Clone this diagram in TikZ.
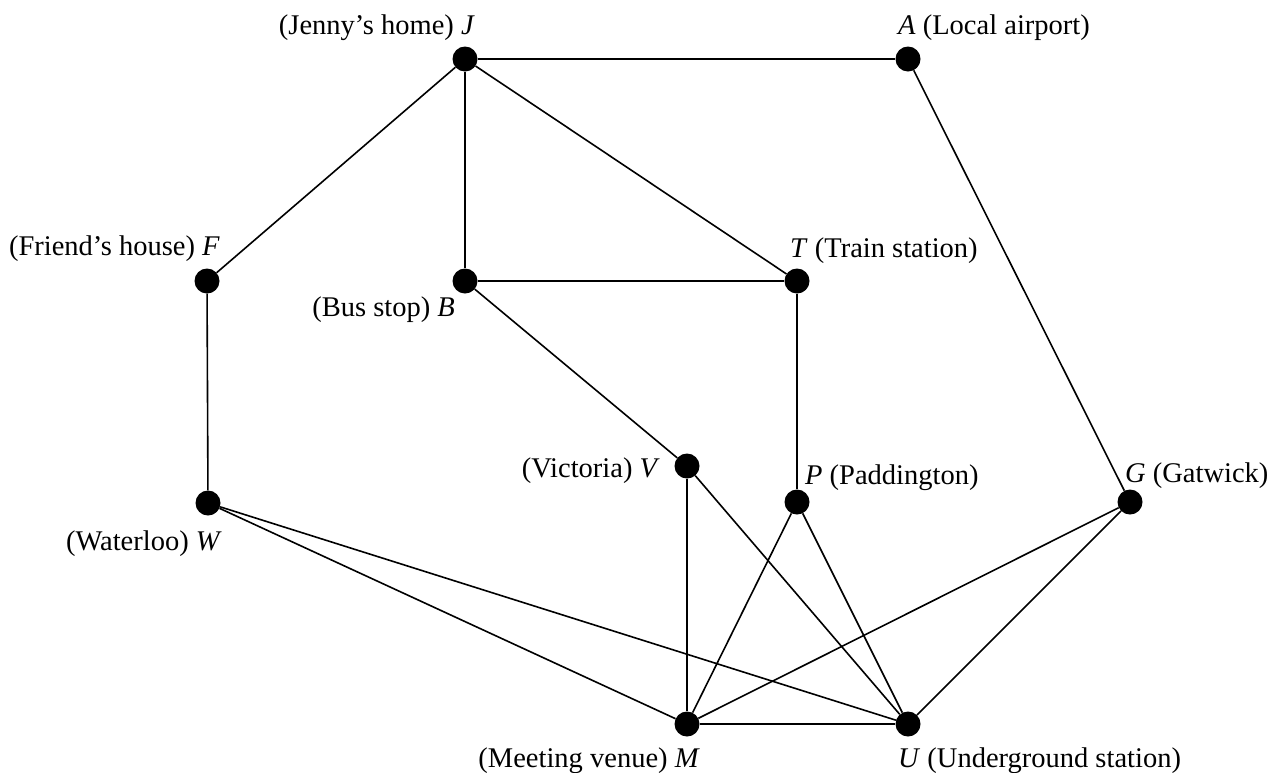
\documentclass[tikz,border=0pt]{standalone}
\usepackage{fontspec}
\setmainfont{Liberation Serif}
\begin{document}
\begin{tikzpicture}[x=1pt,y=-1pt,
  vtx/.style={circle,fill=black,draw=none,inner sep=0pt,minimum size=25pt},
  edge/.style={line width=1.6pt,black},
  lblE/.style={anchor=base east,inner sep=0pt,font=\fontsize{28.5}{34}\selectfont},
  lblW/.style={anchor=base west,inner sep=0pt,font=\fontsize{28.5}{34}\selectfont}]
\useasboundingbox (0,0) rectangle (1272,772);
\node[vtx] (J) at (465,59) {};
\node[vtx] (A) at (908,59) {};
\node[vtx] (F) at (207,281) {};
\node[vtx] (B) at (465,281) {};
\node[vtx] (T) at (797,281) {};
\node[vtx] (V) at (687,466) {};
\node[vtx] (P) at (797,502) {};
\node[vtx] (G) at (1130,502) {};
\node[vtx] (W) at (208,503) {};
\node[vtx] (M) at (687,724) {};
\node[vtx] (U) at (908,724) {};
\foreach \a/\b in {J/A,J/F,J/B,J/T,A/G,F/W,B/T,B/V,T/P,V/M,V/U,P/M,P/U,G/M,G/U,W/M,W/U,M/U}
  \draw[edge] (\a) -- (\b);
\node[lblE] (lJ) at (475,34) {(Jenny’s home) \textit{J}};
\node[lblW] (lA) at (898,34) {\textit{A} (Local airport)};
\node[lblE] (lF) at (220,255) {(Friend’s house) \textit{F}};
\node[lblE] (lB) at (455,316) {(Bus stop) \textit{B}};
\node[lblW] (lT) at (790,257) {\textit{T} (Train station)};
\node[lblE] (lV) at (660,477) {(Victoria) \textit{V}};
\node[lblW] (lP) at (805,484) {\textit{P} (Paddington)};
\node[lblW] (lG) at (1125,482) {\textit{G} (Gatwick)};
\node[lblE] (lW) at (222,550) {(Waterloo) \textit{W}};
\node[lblE] (lM) at (700,767) {(Meeting venue) \textit{M}};
\node[lblW] (lU) at (898,767) {\textit{U} (Underground station)};
\end{tikzpicture}
\end{document}
